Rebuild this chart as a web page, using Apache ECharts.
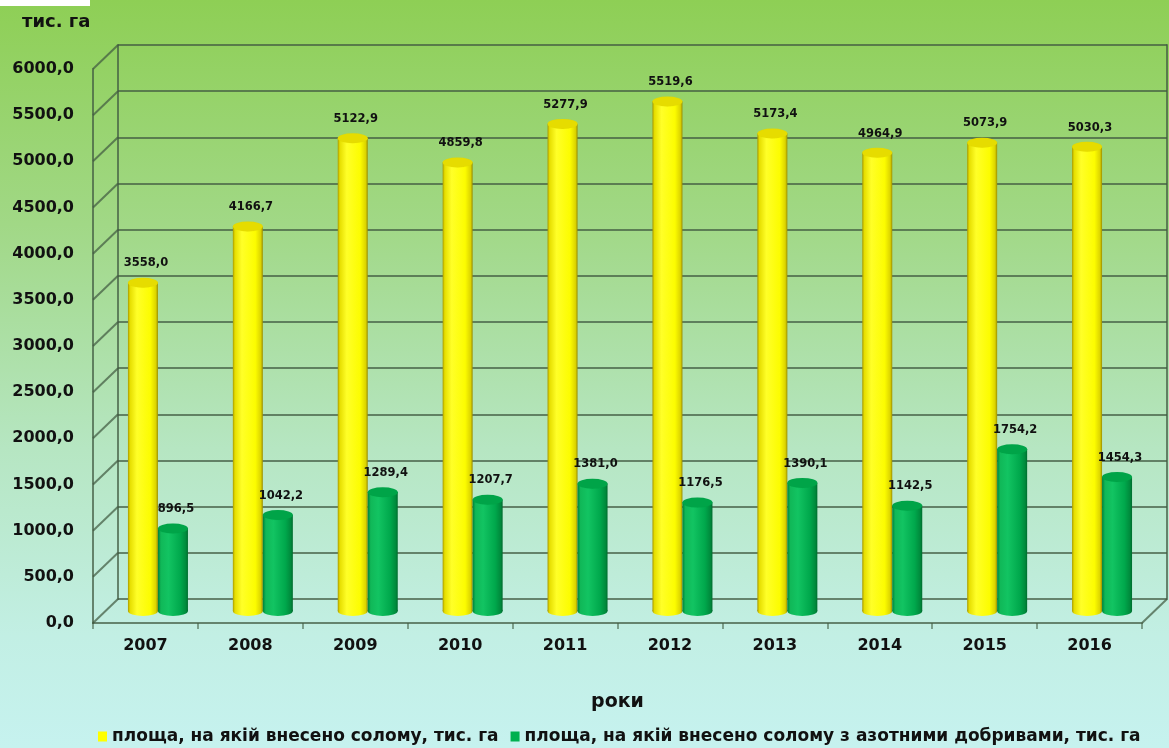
<!DOCTYPE html>
<html><head><meta charset="utf-8">
<script src="https://cdn.jsdelivr.net/npm/echarts@6/dist/echarts.min.js"></script>
<style>html,body{margin:0;padding:0;}#c{width:1169px;height:748px;}</style>
</head><body><div id="c"></div>
<script>
const years = ['2007','2008','2009','2010','2011','2012','2013','2014','2015','2016'];
const straw = [3558.0, 4166.7, 5122.9, 4859.8, 5277.9, 5519.6, 5173.4, 4964.9, 5073.9, 5030.3];
const strawN = [896.5, 1042.2, 1289.4, 1207.7, 1381.0, 1176.5, 1390.1, 1142.5, 1754.2, 1454.3];
const yTicks = [0,500,1000,1500,2000,2500,3000,3500,4000,4500,5000,5500,6000];
const name1 = 'площа, на якій внесено солому, тис. га';
const name2 = 'площа, на якій внесено солому з азотними добривами, тис. га';
const unitLabel = 'тис. га';
const xName = 'роки';

const FONT = 'DejaVu Sans';
const fmt = v => (typeof v === 'object' ? v.value : v).toFixed(1).replace('.', ',');
const lineCol = 'rgba(65,90,65,0.72)';
const DX = 25, DY = 24;
const BW = 30;

function hGrad(stops){ return {type:'linear',x:0,y:0,x2:1,y2:0,colorStops:stops.map(s=>({offset:s[0],color:s[1]}))}; }
const yellowBody = hGrad([[0,'#a89a00'],[0.07,'#e6de00'],[0.3,'#ffff28'],[0.75,'#fcfc00'],[0.93,'#dcd400'],[1,'#9a8e00']]);
const greenBody = hGrad([[0,'#00803a'],[0.1,'#10b858'],[0.35,'#12c462'],[0.75,'#00a84c'],[0.93,'#008a3c'],[1,'#006c2e']]);

const chart = echarts.init(document.getElementById('c'));
const option = {
  backgroundColor: {type:'linear',x:0,y:0,x2:0,y2:1,colorStops:[
    {offset:0,color:'#8ecf55'},{offset:0.3,color:'#a1d886'},{offset:0.6,color:'#b6e6c2'},{offset:0.85,color:'#c2efe4'},{offset:1,color:'#c6f2ef'}]},
  animation:false,
  title:{text:unitLabel,left:17,top:8,textStyle:{fontFamily:FONT,fontWeight:'bold',fontSize:18,color:'#111'}},
  graphic:[{type:'rect',left:0,top:0,shape:{width:90,height:6},style:{fill:'#ffffff'}}],
  legend:{
    left:93, top:723, icon:'rect', itemWidth:9, itemHeight:10, itemGap:12,
    textStyle:{fontFamily:FONT,fontWeight:'bold',fontSize:17,color:'#111'},
    data:[{name:name1,itemStyle:{color:'#ffff00'}},{name:name2,itemStyle:{color:'#00b050'}}]
  },
  grid:[
    {left:118, right:2, top:45, bottom:149},
    {left:118-DX, right:2+DX, top:45+DY, bottom:149-DY},
    {left:118-DX/2, right:2+DX/2, top:45+DY/2, bottom:149-DY/2},
    {left:118-DX/2, right:2+DX/2, top:45+DY/2, bottom:149-DY/2}
  ],
  xAxis:[
    {gridIndex:0,type:'value',min:0,max:1,show:false},
    {gridIndex:1,type:'category',data:years,
      axisLine:{show:true,lineStyle:{color:lineCol,width:2}},
      axisTick:{show:true,length:6,lineStyle:{color:lineCol,width:1.5}},
      axisLabel:{fontFamily:FONT,fontWeight:'bold',fontSize:16,color:'#111',margin:15},
      name:xName,nameLocation:'middle',nameGap:70,
      nameTextStyle:{fontFamily:FONT,fontWeight:'bold',fontSize:19,color:'#111'}},
    {gridIndex:2,type:'category',data:years,show:false},
    {gridIndex:3,type:'category',data:years,show:false}
  ],
  yAxis:[
    {gridIndex:0,type:'value',min:0,max:6000,interval:500,
      axisLine:{show:true,lineStyle:{color:lineCol,width:2}},axisTick:{show:false},axisLabel:{show:false},
      splitLine:{show:true,lineStyle:{color:lineCol,width:2}}},
    {gridIndex:0,type:'value',min:0,max:6000,interval:500,position:'right',
      axisLine:{show:true,lineStyle:{color:lineCol,width:2}},axisTick:{show:false},axisLabel:{show:false},splitLine:{show:false}},
    {gridIndex:1,type:'value',min:0,max:6000,interval:500,
      axisLine:{show:true,lineStyle:{color:lineCol,width:2}},axisTick:{show:false},splitLine:{show:false},
      axisLabel:{fontFamily:FONT,fontWeight:'bold',fontSize:16,color:'#111',margin:19,formatter:fmt}},
    {gridIndex:2,type:'value',min:0,max:6000,interval:500,show:false},
    {gridIndex:3,type:'value',min:0,max:6000,interval:500,show:false}
  ],
  series:[
    {type:'custom',xAxisIndex:0,yAxisIndex:0,silent:true,z:1,
      data:yTicks.map(v=>[0,v]).concat([[1,0]]),
      renderItem:function(params,api){
        const p = api.coord([api.value(0), api.value(1)]);
        return {type:'line',shape:{x1:p[0],y1:p[1],x2:p[0]-DX,y2:p[1]+DY},
          style:{stroke:lineCol,lineWidth:2}};
      }},
    {type:'pictorialBar',name:'b1',xAxisIndex:3,yAxisIndex:4,data:straw,symbol:'circle',
      symbolSize:[BW,10],symbolPosition:'start',symbolOffset:[0,'50%'],barWidth:BW,barGap:'0%',
      itemStyle:{color:yellowBody},z:3,silent:true},
    {type:'pictorialBar',name:'b2',xAxisIndex:3,yAxisIndex:4,data:strawN,symbol:'circle',
      symbolSize:[BW,10],symbolPosition:'start',symbolOffset:[0,'50%'],barWidth:BW,barGap:'0%',
      itemStyle:{color:greenBody},z:3,silent:true},
    {type:'bar',name:name1,xAxisIndex:2,yAxisIndex:3,data:straw,barWidth:BW,barGap:'0%',
      itemStyle:{color:yellowBody},z:4,
      label:{show:true,position:'top',distance:13,offset:[3,0],formatter:p=>fmt(p.value),
        fontFamily:FONT,fontWeight:'bold',fontSize:11.5,color:'#111'}},
    {type:'bar',name:name2,xAxisIndex:2,yAxisIndex:3,data:strawN,barWidth:BW,barGap:'0%',
      itemStyle:{color:greenBody},z:4,
      label:{show:true,position:'top',distance:13,offset:[3,0],formatter:p=>fmt(p.value),
        fontFamily:FONT,fontWeight:'bold',fontSize:11.5,color:'#111'}},
    {type:'pictorialBar',name:'t1',xAxisIndex:2,yAxisIndex:3,data:straw,symbol:'circle',
      symbolSize:[BW,10],symbolPosition:'end',symbolOffset:[0,'-50%'],barWidth:BW,barGap:'0%',
      itemStyle:{color:'#e6dc00',borderColor:'#b8ae00',borderWidth:0.8},z:5,silent:true},
    {type:'pictorialBar',name:'t2',xAxisIndex:2,yAxisIndex:3,data:strawN,symbol:'circle',
      symbolSize:[BW,10],symbolPosition:'end',symbolOffset:[0,'-50%'],barWidth:BW,barGap:'0%',
      itemStyle:{color:'#00a448',borderColor:'#008038',borderWidth:0.8},z:5,silent:true}
  ]
};
chart.setOption(option);
</script></body></html>
